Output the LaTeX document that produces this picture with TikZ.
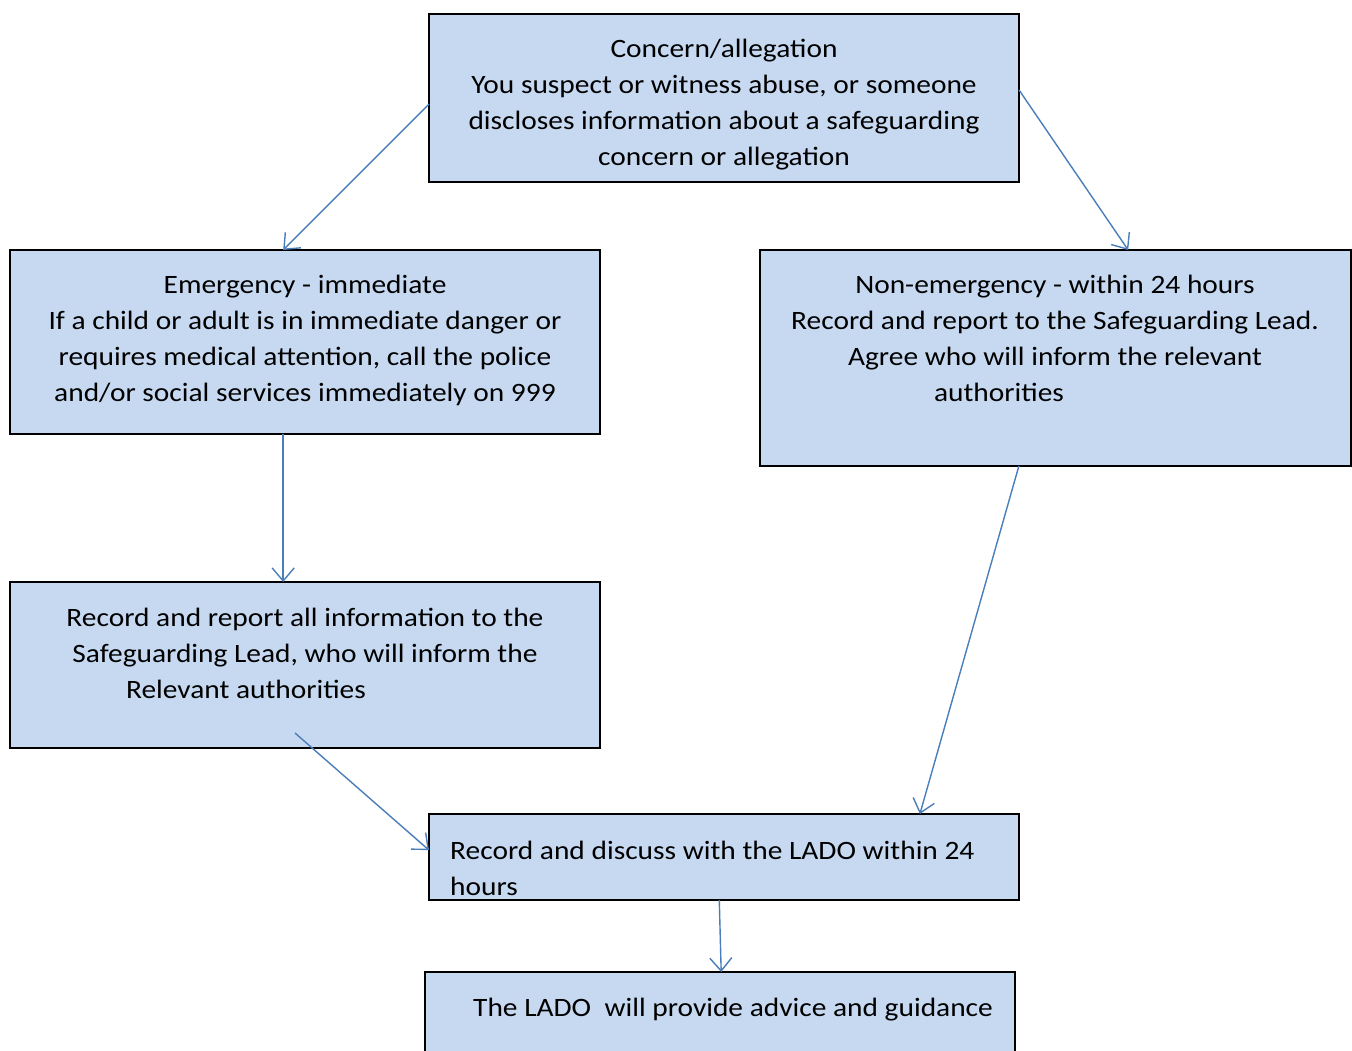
\documentclass[tikz,border=0pt]{standalone}
\usepackage{fontspec}
\setmainfont{Carlito}[FakeStretch=1.11]
\usetikzlibrary{arrows.meta,calc}
\definecolor{boxfill}{HTML}{C6D9F1}
\definecolor{arr}{HTML}{4A7EBB}
\begin{document}
\begin{tikzpicture}[x=1pt,y=-1pt,
 box/.style={draw=black, line width=1.6pt, fill=boxfill, anchor=north west, inner sep=0pt, outer sep=0pt},
 txt/.style={font=\fontsize{26.5}{36}\selectfont, align=center, inner sep=0pt, anchor=base},
 ltxt/.style={font=\fontsize{26.5}{36}\selectfont, align=left, inner sep=0pt, anchor=base west},
 conn/.style={draw=arr, line width=1.4pt, -{Straight Barb[length=13pt,width=22pt,line width=1.4pt]}}]
\useasboundingbox (0,0) rectangle (1352,1050);
\fill[white] (0,0) rectangle (1352,1050);
% boxes
\node[box, minimum width=590pt, minimum height=168pt] (top) at (429,14) {};
\node[box, minimum width=590pt, minimum height=184pt] (emerg) at (10,250) {};
\node[box, minimum width=591pt, minimum height=216pt] (nonem) at (760,250) {};
\node[box, minimum width=590pt, minimum height=166pt] (rec) at (10,582) {};
\node[box, minimum width=590pt, minimum height=86pt] (disc) at (429,814) {};
\node[box, minimum width=590pt, minimum height=110pt] (lado) at (425,972) {};
% texts (anchor = baseline of the last line)
\node[txt] (toptxt) at (724,165) {Concern/allegation\\You suspect or witness abuse, or someone\\discloses information about a safeguarding\\concern or allegation};
\node[txt] (emergtxt) at (305,401) {Emergency - immediate\\If a child or adult is in immediate danger or\\requires medical attention, call the police\\and/or social services immediately on 999};
\node[txt] (nonemtxt) at (1055,401) {Non-emergency - within 24 hours\\Record and report to the Safeguarding Lead.\\Agree who will inform the relevant\\authorities\hspace*{112pt}};
\node[txt] (rectxt) at (305,698) {Record and report all information to the\\Safeguarding Lead, who will inform the\\Relevant authorities\hspace*{118pt}};
\node[ltxt] (disctxt) at (450,895) {Record and discuss with the LADO within 24\\hours};
\node[ltxt] (ladotxt) at (473,1016) {The LADO\ \ will provide advice and guidance};
% connectors
\coordinate (recout) at (295,733);
\draw[conn] ($(top.north west)!0.536!(top.south west)$) -- ($(emerg.north west)!0.463!(emerg.north east)$);
\draw[conn] ($(top.north east)!0.452!(top.south east)$) -- ($(nonem.north west)!0.623!(nonem.north east)$);
\draw[conn] ($(emerg.south west)!0.463!(emerg.south east)$) -- ($(rec.north west)!0.463!(rec.north east)$);
\draw[conn] ($(nonem.south west)!0.438!(nonem.south east)$) -- ($(disc.north west)!0.832!(disc.north east)$);
\draw[conn] (recout) -- ($(disc.north west)!0.42!(disc.south west)$);
\draw[conn] ($(disc.south west)!0.492!(disc.south east)$) -- ($(lado.north west)!0.502!(lado.north east)$);
\end{tikzpicture}
\end{document}
